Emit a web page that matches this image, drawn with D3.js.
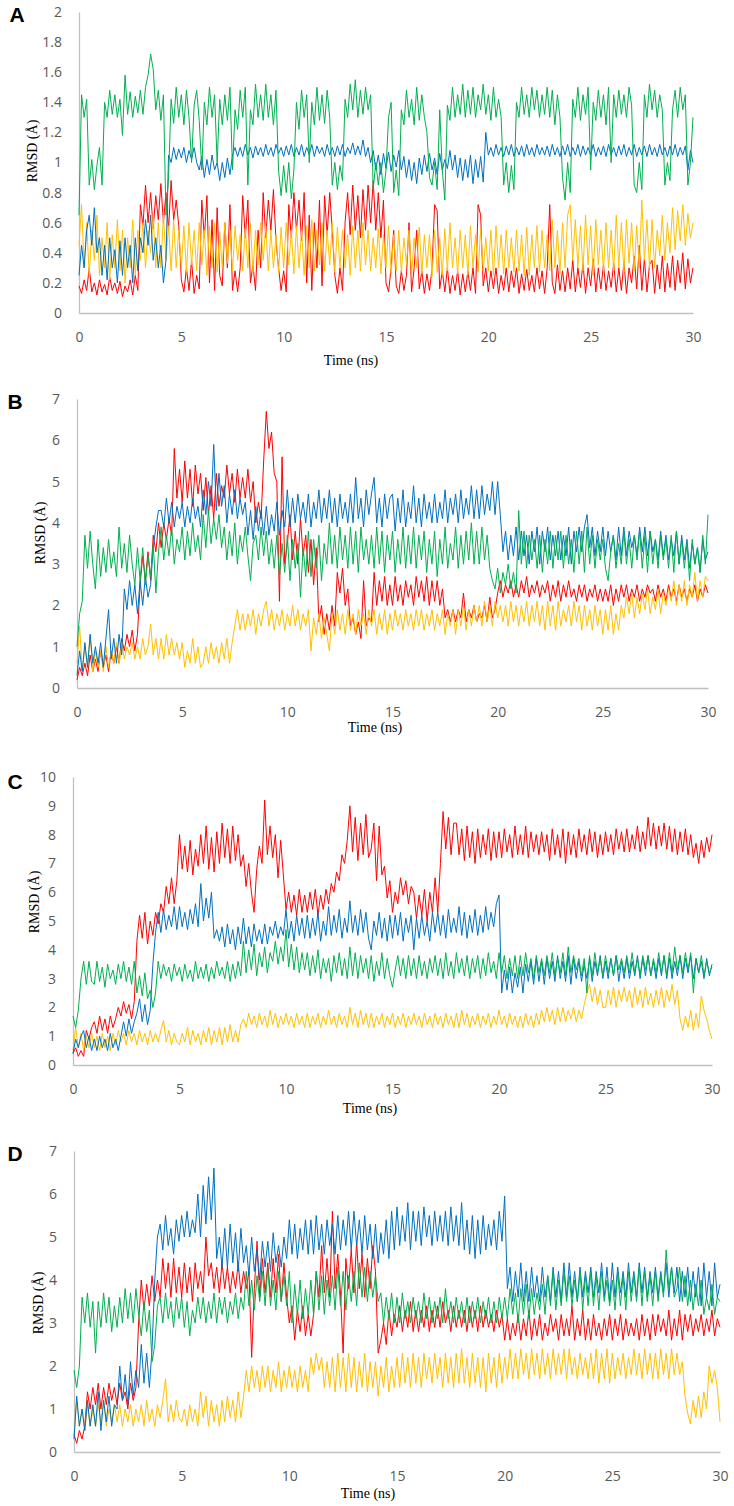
<!DOCTYPE html>
<html><head><meta charset="utf-8">
<script src="https://cdn.jsdelivr.net/npm/d3@7"></script>
<style>body{margin:0;background:#fff} svg{display:block}</style>
</head><body>
<svg id="chart" width="734" height="1506"></svg>
<script>
// sampling grid: one value every 0.125 ns, 0..30 ns (8 values per ns per row)
const timeStep = 0.125;
const time = d3.range(241).map(i => i * timeStep);
const xTicks = [0, 5, 10, 15, 20, 25, 30];
const yTicksA = [0, 0.2, 0.4, 0.6, 0.8, 1, 1.2, 1.4, 1.6, 1.8, 2];
const yTicksB = [0, 1, 2, 3, 4, 5, 6, 7];
const yTicksC = [0, 1, 2, 3, 4, 5, 6, 7, 8, 9, 10];
const yTicksD = [0, 1, 2, 3, 4, 5, 6, 7];

// ---------- Panel A ----------
const gA = [
0.65,1.45,1.3,1.42,0.85,1.02,0.82,0.98,
1.1,0.85,1.4,1.3,1.48,1.32,1.45,1.3,
1.42,1.18,1.58,1.32,1.47,1.3,1.44,1.33,
1.48,1.32,1.5,1.58,1.72,1.62,1.35,1.48,
1.28,1.45,0.65,0.9,1.42,1.26,1.5,1.3,
1.45,1.25,1.48,1.3,1.0,1.38,1.48,1.28,
0.95,1.4,1.25,1.5,1.3,1.45,1.0,1.42,
1.25,1.45,1.28,1.5,0.95,1.35,1.22,1.48,
1.3,1.5,0.85,1.35,1.25,1.52,1.3,1.45,
1.28,1.52,1.3,1.45,1.25,1.48,0.95,0.78,
0.98,0.8,1.0,0.76,0.95,1.4,1.22,1.48,
1.3,1.45,1.0,1.4,1.25,1.5,1.28,1.45,
1.26,1.48,1.3,0.85,1.0,0.82,0.98,0.88,
1.42,1.3,1.52,1.35,1.55,1.3,1.48,1.32,
1.5,1.35,1.45,0.82,1.0,0.85,1.0,0.8,
0.95,1.3,1.4,0.8,0.95,0.78,1.35,1.25,
1.48,1.3,1.42,1.25,1.5,1.28,1.45,1.3,
1.2,0.9,0.85,1.0,0.82,1.35,0.95,0.75,
1.38,1.28,1.5,1.3,1.45,1.32,1.52,1.3,
1.48,1.32,1.5,1.3,1.45,1.35,1.52,1.32,
1.45,1.28,1.5,1.3,1.42,1.3,0.85,1.0,
0.8,0.98,0.82,1.4,1.3,1.5,1.32,1.45,
1.3,1.5,1.35,1.48,1.3,1.45,1.32,1.5,
1.3,1.48,1.25,1.45,1.3,0.9,0.75,1.0,
0.8,1.42,1.3,1.5,1.28,1.45,1.32,1.5,
0.95,1.4,1.28,1.48,1.3,1.45,1.25,1.5,
1.0,1.45,1.3,1.48,1.32,1.45,1.3,1.5,
1.38,0.85,0.8,1.0,0.82,1.45,1.3,1.52,
1.35,1.48,1.3,1.45,1.35,0.85,1.0,0.88,
1.35,1.48,1.3,1.5,1.35,1.45,0.85,1.0,
1.3];
const bA = [
0.25,0.45,0.3,0.55,0.65,0.45,0.7,0.4,
0.5,0.25,0.45,0.22,0.5,0.3,0.42,0.2,
0.48,0.25,0.5,0.3,0.45,0.2,0.5,0.28,
0.5,0.4,0.62,0.45,0.65,0.35,0.5,0.3,
0.45,0.2,0.35,1.05,1.0,1.1,1.02,1.09,
1.03,1.1,1.0,1.08,1.02,1.1,1.0,0.95,
1.04,0.9,1.02,0.92,1.05,0.95,1.0,0.88,
1.0,0.9,1.03,0.92,1.05,1.1,1.04,1.1,
1.04,1.12,1.05,1.1,1.03,1.11,1.05,1.1,
1.04,1.12,1.05,1.1,1.04,1.12,1.06,1.1,
1.04,1.11,1.05,1.12,1.04,1.1,1.05,1.12,
1.04,1.1,1.05,1.12,1.04,1.11,1.06,1.1,
1.04,1.12,1.05,1.1,1.04,1.11,1.05,1.12,
1.04,1.1,1.06,1.13,1.05,1.11,1.05,1.15,
1.04,1.1,1.0,1.08,0.95,1.05,0.92,1.06,
0.96,1.07,0.94,1.05,0.97,1.08,0.95,1.04,
0.9,1.02,0.88,1.0,0.86,1.03,0.92,1.05,
0.94,1.06,0.95,1.03,0.92,1.06,0.95,1.02,
0.96,1.08,0.95,1.05,0.9,1.03,0.88,1.02,
0.9,1.05,0.86,1.02,0.9,1.04,0.87,1.2,
1.05,1.1,1.04,1.12,1.05,1.1,1.04,1.11,
1.05,1.12,1.04,1.1,1.05,1.11,1.04,1.12,
1.05,1.1,1.04,1.12,1.05,1.1,1.05,1.11,
1.04,1.12,1.05,1.1,1.04,1.11,1.05,1.12,
1.04,1.1,1.05,1.12,1.04,1.11,1.05,1.1,
1.05,1.12,1.04,1.1,1.05,1.11,1.04,1.12,
1.05,1.1,1.04,1.11,1.05,1.12,1.04,1.1,
1.05,1.12,1.04,1.1,1.05,1.11,1.04,1.12,
1.05,1.1,1.04,1.12,1.05,1.1,1.04,1.11,
1.05,1.12,1.04,1.1,1.05,1.11,0.95,1.08,
1.0];
const rA = [
0.18,0.13,0.22,0.15,0.3,0.14,0.2,0.12,
0.22,0.14,0.19,0.12,0.24,0.15,0.2,0.13,
0.21,0.11,0.18,0.14,0.22,0.12,0.25,0.15,
0.72,0.58,0.85,0.6,0.8,0.56,0.78,0.62,
0.86,0.6,0.8,0.55,0.88,0.62,0.75,0.58,
0.22,0.14,0.3,0.15,0.35,0.13,0.25,0.16,
0.75,0.5,0.78,0.2,0.62,0.15,0.7,0.25,
0.18,0.6,0.3,0.72,0.15,0.28,0.14,0.3,
0.78,0.5,0.75,0.2,0.32,0.15,0.55,0.3,
0.8,0.5,0.75,0.55,0.82,0.48,0.3,0.15,
0.28,0.14,0.72,0.5,0.8,0.55,0.75,0.48,
0.8,0.2,0.65,0.15,0.6,0.3,0.75,0.18,
0.78,0.52,0.8,0.55,0.25,0.13,0.3,0.15,
0.6,0.8,0.52,0.85,0.55,0.78,0.5,0.82,
0.55,0.85,0.6,0.88,0.55,0.8,0.5,0.75,
0.2,0.14,0.3,0.55,0.18,0.13,0.28,0.15,
0.25,0.6,0.14,0.3,0.55,0.16,0.28,0.13,
0.26,0.15,0.3,0.72,0.68,0.16,0.28,0.14,
0.3,0.13,0.25,0.15,0.28,0.12,0.26,0.14,
0.28,0.15,0.3,0.13,0.72,0.65,0.18,0.3,
0.14,0.28,0.16,0.3,0.13,0.25,0.15,0.3,
0.14,0.28,0.17,0.3,0.13,0.26,0.15,0.29,
0.15,0.25,0.14,0.3,0.16,0.28,0.13,0.3,
0.72,0.2,0.13,0.32,0.15,0.28,0.14,0.3,
0.16,0.35,0.14,0.3,0.17,0.33,0.13,0.3,
0.18,0.36,0.14,0.3,0.16,0.32,0.15,0.28,
0.17,0.33,0.14,0.3,0.15,0.34,0.13,0.3,
0.2,0.38,0.16,0.45,0.15,0.36,0.14,0.32,
0.35,0.13,0.32,0.16,0.38,0.14,0.33,0.17,
0.38,0.15,0.35,0.2,0.4,0.16,0.36,0.2,
0.3];
const yA = [
0.45,0.72,0.3,0.6,0.25,0.55,0.35,0.65,
0.25,0.5,0.3,0.6,0.22,0.52,0.3,0.62,
0.28,0.55,0.2,0.5,0.3,0.62,0.25,0.55,
0.35,0.6,0.3,0.55,0.4,0.65,0.3,0.6,
0.3,0.65,0.35,0.58,0.28,0.62,0.3,0.55,
0.3,0.58,0.27,0.6,0.32,0.55,0.28,0.6,
0.32,0.55,0.25,0.58,0.3,0.6,0.27,0.54,
0.3,0.6,0.33,0.55,0.28,0.58,0.35,0.52,
0.28,0.56,0.3,0.6,0.27,0.55,0.32,0.6,
0.35,0.58,0.28,0.55,0.3,0.52,0.27,0.57,
0.3,0.6,0.32,0.55,0.26,0.58,0.3,0.55,
0.25,0.58,0.3,0.62,0.28,0.55,0.32,0.6,
0.28,0.55,0.32,0.6,0.27,0.57,0.3,0.55,
0.3,0.52,0.25,0.58,0.3,0.55,0.28,0.6,
0.32,0.55,0.28,0.5,0.3,0.56,0.26,0.52,
0.3,0.58,0.26,0.52,0.28,0.55,0.27,0.5,
0.32,0.55,0.25,0.5,0.3,0.57,0.26,0.52,
0.3,0.52,0.24,0.55,0.27,0.5,0.25,0.56,
0.28,0.6,0.3,0.5,0.26,0.55,0.3,0.52,
0.25,0.58,0.3,0.52,0.27,0.56,0.28,0.5,
0.28,0.55,0.25,0.58,0.3,0.52,0.26,0.55,
0.3,0.5,0.27,0.55,0.28,0.52,0.25,0.57,
0.25,0.52,0.3,0.58,0.27,0.55,0.3,0.52,
0.28,0.62,0.3,0.55,0.26,0.6,0.3,0.65,
0.72,0.35,0.62,0.3,0.58,0.28,0.65,0.32,
0.58,0.25,0.62,0.32,0.55,0.28,0.6,0.3,
0.55,0.28,0.65,0.3,0.6,0.27,0.62,0.33,
0.6,0.28,0.58,0.3,0.75,0.35,0.62,0.3,
0.62,0.3,0.55,0.38,0.65,0.35,0.6,0.4,
0.7,0.42,0.68,0.48,0.72,0.45,0.66,0.5,
0.6];

// ---------- Panel B ----------
const gB = [
1.0,1.8,2.1,3.7,2.9,3.8,3.0,2.4,
3.6,2.7,3.4,2.8,3.6,2.9,3.3,2.7,
3.9,2.9,3.5,2.8,3.7,3.0,2.5,3.4,
2.6,3.4,2.5,3.2,2.7,3.5,2.3,3.3,
3.9,3.1,3.7,3.2,3.9,3.0,3.6,3.3,
3.9,3.1,3.8,3.2,4.0,3.3,3.7,3.1,
4.2,3.4,4.3,3.5,4.1,3.6,4.2,3.4,
3.9,3.1,3.8,3.2,4.0,3.0,3.7,3.3,
3.9,3.2,2.6,3.5,3.7,3.1,3.9,3.2,
3.8,3.0,3.6,2.9,3.7,2.7,3.5,2.8,
3.7,2.6,3.6,2.9,3.5,2.2,3.4,2.7,
3.8,2.7,3.6,2.9,3.7,2.6,3.5,3.0,
4.0,3.0,3.7,2.9,3.9,3.1,3.7,2.9,
3.9,3.0,3.8,2.8,3.9,3.1,3.6,3.0,
3.7,2.9,3.9,3.0,3.8,2.8,3.7,3.1,
3.8,2.8,3.6,3.0,3.9,2.9,3.7,3.0,
3.9,2.9,3.7,3.1,3.8,2.8,3.6,3.0,
3.8,2.7,3.6,3.0,3.9,2.9,3.5,3.1,
3.9,2.9,3.7,3.0,3.8,3.1,4.0,3.0,
3.8,3.0,3.9,3.1,3.7,2.9,2.6,2.4,
2.9,2.3,2.8,2.5,3.0,2.4,2.8,2.3,
4.3,3.0,3.8,2.9,3.7,3.1,3.6,2.9,
3.7,2.8,3.6,3.0,3.8,2.9,3.7,3.1,
3.8,2.9,3.7,3.0,3.6,2.8,3.8,3.0,
3.8,2.8,3.9,3.0,3.7,2.9,3.6,3.1,
3.6,2.9,2.6,3.3,3.7,2.9,3.5,3.0,
3.8,3.0,3.6,2.9,3.7,3.1,3.8,2.9,
3.7,2.8,3.8,3.0,3.6,2.9,3.7,3.1,
3.6,2.9,3.7,2.8,3.8,3.0,3.6,2.9,
3.5,2.6,3.6,3.0,3.4,2.8,3.7,3.0,
4.2];
const bB = [
0.3,0.9,0.4,1.1,0.5,1.3,0.6,1.0,
0.6,1.1,0.5,1.2,1.9,0.7,1.2,0.6,
1.3,0.8,2.4,1.9,2.6,2.0,2.5,1.8,
2.6,2.0,2.7,2.2,2.5,3.4,3.9,4.3,
4.3,3.9,4.6,4.0,4.5,3.9,4.4,4.1,
4.5,3.9,4.4,4.0,4.6,4.1,4.4,3.9,
4.8,4.2,5.0,4.4,5.9,4.3,5.2,4.4,
4.9,4.0,4.7,4.2,4.8,4.1,4.6,4.2,
4.5,3.7,4.3,3.6,4.4,3.8,4.3,3.7,
4.4,3.7,4.2,3.8,4.5,3.7,4.3,3.9,
4.8,3.9,4.6,4.0,4.7,4.1,4.5,4.0,
4.7,3.9,4.5,4.1,4.8,4.0,4.6,4.1,
4.8,4.0,4.6,3.9,4.7,4.1,4.5,4.0,
4.7,4.0,5.1,4.1,4.6,3.9,4.8,4.2,
4.7,5.1,4.0,4.6,3.9,4.7,4.1,4.6,
4.7,3.8,4.6,4.0,4.8,3.9,4.5,4.1,
4.9,4.0,4.6,3.9,4.7,4.1,4.5,4.0,
4.7,4.0,4.5,4.1,4.8,4.0,4.6,4.2,
4.7,4.0,4.8,4.1,4.6,4.2,4.9,4.1,
4.8,4.1,4.9,4.2,4.7,4.3,5.0,4.2,
5.0,4.2,3.3,3.8,3.1,3.7,3.2,3.9,
3.1,3.8,3.2,3.7,3.0,3.8,3.3,3.9,
3.0,3.8,3.3,3.9,3.1,3.7,3.2,3.8,
3.1,3.7,3.2,3.9,3.0,3.8,3.3,3.9,
3.3,3.9,4.2,3.4,3.9,3.2,3.8,3.3,
3.9,3.2,3.8,3.3,3.7,3.1,3.9,3.2,
3.9,3.2,3.8,3.4,3.7,3.2,3.9,3.3,
3.9,3.2,3.8,3.3,3.6,3.1,3.8,3.2,
3.7,3.1,3.6,3.2,3.8,3.0,3.7,3.1,
3.6,2.9,3.5,3.0,3.4,2.8,3.6,3.1,
3.3];
const rB = [
0.2,0.5,0.3,0.6,0.3,0.8,0.4,0.7,
0.4,0.9,0.5,0.8,0.4,0.9,0.6,1.0,
0.6,1.2,0.9,1.3,1.0,1.4,0.9,1.3,
2.5,3.2,2.6,3.3,2.6,3.7,3.3,4.0,
3.4,4.0,3.6,4.1,3.7,5.8,4.6,5.3,
4.5,5.5,4.6,5.3,4.4,5.4,4.7,5.2,
4.3,5.1,4.2,4.9,4.1,5.2,4.4,4.9,
4.6,5.4,4.7,5.2,4.5,5.3,4.6,5.1,
4.6,5.3,4.5,5.0,4.0,4.5,4.1,5.5,
6.7,5.8,6.2,5.2,5.0,2.1,5.6,3.0,
3.5,4.2,3.1,3.8,3.0,4.1,3.2,3.7,
2.8,3.6,2.5,3.4,1.6,2.0,1.3,1.8,
1.4,2.0,1.5,2.8,2.3,2.9,2.0,2.4,
1.5,1.7,1.3,1.6,1.2,2.6,1.5,1.7,
1.6,2.8,2.0,2.6,2.1,2.7,2.0,2.5,
2.0,2.7,2.1,2.5,2.0,2.6,2.2,2.5,
2.0,2.7,2.2,2.6,2.1,2.7,2.0,2.6,
2.1,2.6,2.0,2.4,1.7,1.9,1.6,1.9,
1.6,1.9,1.7,2.3,1.6,1.9,1.7,2.0,
1.6,1.8,1.7,2.0,1.6,2.2,1.7,1.9,
2.3,2.6,2.2,2.5,2.3,2.6,2.2,2.5,
2.2,2.6,2.3,2.7,2.2,2.5,2.3,2.6,
2.2,2.5,2.3,2.6,2.1,2.5,2.2,2.6,
2.1,2.5,2.2,2.6,2.2,2.4,2.1,2.5,
2.2,2.5,2.1,2.4,2.2,2.5,2.1,2.4,
2.1,2.4,2.1,2.5,2.0,2.4,2.1,2.5,
2.2,2.5,2.1,2.4,2.2,2.5,2.1,2.4,
2.2,2.5,2.3,2.4,2.1,2.5,2.2,2.4,
2.1,2.5,2.2,2.4,2.1,2.5,2.2,2.4,
2.1,2.4,2.2,2.5,2.1,2.4,2.2,2.5,
2.3];
const yB = [
0.6,1.5,0.4,1.0,0.5,1.3,0.4,0.9,
0.5,0.9,0.4,1.0,0.5,0.9,0.6,1.1,
0.6,1.1,0.7,1.0,0.8,1.1,0.7,1.0,
0.7,1.2,0.8,1.0,1.55,0.8,1.2,0.7,
1.2,0.7,1.3,0.8,1.2,0.8,1.1,0.7,
1.1,0.5,0.9,0.6,1.2,0.6,1.0,0.5,
0.6,1.0,0.6,1.1,0.7,1.0,0.6,1.1,
0.7,1.2,0.6,1.1,1.5,1.9,1.4,1.8,
1.4,1.8,1.5,1.9,1.3,1.8,1.5,1.9,
2.1,1.5,1.9,1.4,1.8,1.5,1.9,1.4,
1.8,1.5,2.0,1.5,1.9,1.4,1.8,1.5,
1.9,0.9,1.7,1.3,1.8,1.2,1.7,1.3,
0.9,1.8,1.3,1.9,1.4,1.8,1.3,1.9,
1.4,1.8,1.3,1.9,1.5,1.8,1.3,1.9,
1.5,1.9,1.3,1.8,1.4,1.9,1.3,1.8,
1.4,1.9,1.5,1.8,1.4,1.9,1.5,1.8,
1.4,1.9,1.5,1.9,1.4,1.8,1.5,1.9,
1.4,1.8,1.5,1.9,1.3,1.8,1.5,1.9,
1.3,1.9,1.5,2.0,1.4,1.9,1.5,2.0,
1.6,2.0,1.5,2.1,1.6,2.0,1.5,2.1,
1.7,2.0,1.6,2.0,1.5,2.1,1.6,2.0,
1.5,2.0,1.6,2.1,1.5,2.0,1.6,2.1,
1.5,2.0,1.4,2.1,1.5,2.0,1.4,2.1,
1.5,1.9,1.6,2.0,1.5,2.1,1.6,2.0,
1.4,2.0,1.5,1.9,1.4,2.0,1.5,1.9,
1.3,1.9,1.4,2.0,1.3,1.8,1.4,2.0,
1.7,2.2,1.8,2.3,1.7,2.2,1.8,2.3,
1.9,2.4,1.8,2.2,1.9,2.4,1.8,2.3,
2.0,2.4,2.1,2.6,2.0,2.5,2.1,2.6,
2.0,2.5,2.2,2.8,2.1,2.6,2.2,2.7,
2.6];

// ---------- Panel C ----------
const rC = [
0.4,0.6,0.3,0.5,0.3,1.2,0.9,1.3,
1.5,1.1,1.7,1.2,1.6,1.1,1.7,1.3,
1.6,2.0,1.7,2.2,1.8,2.1,1.6,2.2,
4.3,5.2,4.4,5.3,4.2,5.0,4.5,5.3,
4.9,5.6,5.3,6.2,5.6,6.5,5.6,6.4,
8.0,6.8,7.6,6.7,7.8,6.6,7.5,6.9,
8.0,7.0,8.3,6.8,7.9,6.7,8.1,7.0,
8.4,7.2,8.2,7.0,8.3,7.1,8.0,6.9,
7.3,6.2,7.0,6.0,5.3,6.8,7.6,7.0,
9.2,7.3,8.3,7.2,8.0,6.5,7.8,6.6,
5.4,6.0,5.3,5.9,5.2,6.1,5.3,5.9,
5.3,6.0,5.4,6.1,5.2,5.9,5.4,6.1,
5.6,6.3,6.0,6.7,6.4,7.3,7.0,7.8,
9.0,7.4,8.6,7.1,8.4,7.3,8.7,7.2,
7.5,8.4,6.4,8.3,6.6,6.9,5.8,6.4,
5.3,6.0,5.6,6.5,5.9,6.4,5.6,6.2,
6.0,5.1,5.9,5.2,6.1,5.0,6.0,5.3,
6.5,5.3,7.0,8.8,7.5,8.6,7.3,8.4,
8.4,7.3,8.2,7.1,8.3,7.2,8.1,7.0,
8.2,7.2,8.0,7.3,8.2,7.1,8.1,7.2,
8.1,7.2,8.2,7.4,8.0,7.2,8.3,7.3,
8.0,7.3,8.3,7.2,8.1,7.4,8.0,7.3,
8.1,7.4,8.0,7.1,8.2,7.3,8.0,7.2,
8.2,7.0,8.1,7.3,8.0,7.2,8.2,7.4,
8.0,7.3,8.2,7.4,8.1,7.2,8.0,7.3,
8.1,7.4,8.0,7.3,8.2,7.5,8.1,7.4,
8.2,7.4,8.0,7.5,8.3,7.4,8.1,7.5,
8.6,7.6,8.4,7.5,8.3,7.6,8.4,7.5,
8.3,7.4,8.2,7.3,8.1,7.4,8.2,7.3,
8.0,7.2,7.7,7.0,7.8,7.2,7.9,7.4,
8.0];
const bC = [
0.4,0.9,0.6,1.0,1.2,0.6,1.0,0.5,
0.9,0.5,1.0,0.6,0.9,0.5,1.1,0.6,
0.9,0.5,1.0,1.5,1.0,1.6,1.1,1.5,
1.8,2.3,1.5,2.1,1.4,1.9,3.5,4.6,
5.3,4.6,5.4,4.7,5.2,4.8,5.5,4.7,
5.5,4.8,5.3,4.7,5.4,4.9,5.6,4.8,
6.3,5.0,5.8,5.1,6.0,4.4,4.7,4.3,
4.8,4.1,4.9,4.2,4.7,4.0,4.8,4.2,
5.1,4.2,4.8,4.1,4.9,4.3,4.7,4.2,
4.9,4.2,4.8,4.5,5.0,4.4,4.8,4.5,
5.4,4.4,5.0,4.3,5.2,4.5,5.1,4.4,
5.2,4.4,5.1,4.5,5.3,4.3,5.0,4.5,
5.5,4.5,5.2,4.6,5.4,4.4,5.1,4.6,
5.7,4.6,5.2,4.5,5.4,4.6,5.3,4.4,
4.0,5.0,4.5,5.3,4.4,5.1,4.3,5.2,
4.4,5.2,4.5,5.3,4.3,5.1,4.6,5.2,
4.0,5.1,4.4,5.2,4.5,5.0,4.3,5.3,
4.6,5.3,4.5,5.2,4.4,5.4,4.6,5.1,
4.6,5.5,4.5,5.3,4.4,5.2,4.6,5.4,
4.5,5.2,4.6,5.5,4.7,5.3,4.8,5.6,
5.9,2.5,3.3,2.6,3.4,2.5,3.2,2.7,
3.4,2.5,3.5,2.9,3.6,2.8,3.7,2.9,
3.6,2.8,3.7,3.0,3.6,2.9,3.8,3.0,
3.6,2.9,3.8,2.8,3.7,3.0,3.6,2.9,
3.5,3.0,3.7,2.9,3.6,3.1,3.8,3.0,
3.6,3.0,3.7,3.1,3.8,2.9,3.6,3.0,
3.7,3.0,3.6,3.1,3.8,3.0,3.7,3.1,
3.8,3.1,3.6,3.0,3.7,3.1,3.8,3.0,
3.7,3.0,3.6,3.1,3.8,3.0,3.7,3.2,
3.8,3.0,3.7,3.2,3.6,3.0,3.7,3.1,
3.5];
const gC = [
1.7,1.3,1.9,3.0,3.6,2.8,3.6,2.9,
2.8,3.6,2.9,3.4,2.7,3.5,3.0,3.3,
2.8,3.5,3.0,3.6,2.9,3.4,2.8,3.6,
2.5,3.1,2.4,3.2,2.3,2.6,2.0,2.5,
3.6,3.0,3.5,3.1,3.4,2.9,3.5,3.1,
3.4,2.9,3.5,3.0,3.3,2.9,3.6,3.0,
3.4,3.0,3.5,2.9,3.4,3.0,3.6,3.1,
3.4,3.0,3.6,2.9,3.5,3.0,3.6,3.1,
4.3,3.2,4.0,3.3,4.2,3.1,3.9,3.4,
4.1,3.2,3.9,3.6,4.3,3.5,4.1,3.6,
4.7,3.4,4.2,3.3,4.1,3.2,3.9,3.3,
3.9,3.1,3.8,3.2,4.0,3.0,3.7,3.2,
3.7,2.9,3.8,3.2,3.9,3.1,3.7,3.0,
4.1,3.1,3.9,3.0,3.8,3.2,3.7,3.0,
3.8,2.9,3.6,3.1,3.9,3.0,3.7,3.1,
2.7,3.3,3.8,3.1,3.7,3.0,3.8,3.1,
3.7,3.0,3.8,3.1,3.6,3.0,3.7,3.2,
3.8,3.1,3.7,3.0,3.9,3.1,3.6,3.0,
3.9,3.2,3.7,3.1,3.8,3.0,3.7,3.2,
3.8,3.0,3.7,3.1,3.9,3.2,3.6,3.0,
3.9,3.2,3.8,3.0,3.7,3.1,3.8,3.0,
3.8,3.1,3.9,3.2,3.7,3.0,3.8,3.2,
3.7,3.1,3.8,3.2,3.9,3.1,3.7,3.2,
3.9,3.1,4.1,3.2,3.8,3.3,3.7,3.1,
3.7,2.5,3.8,3.1,3.9,3.2,3.7,3.1,
3.8,3.2,3.7,3.1,3.8,3.3,3.7,3.2,
3.8,3.2,3.9,3.2,3.7,3.1,3.8,3.3,
3.8,3.1,3.7,3.2,3.9,3.2,3.8,3.1,
3.9,3.2,4.1,3.3,3.8,3.2,3.9,3.3,
3.9,2.5,3.7,3.2,3.8,3.1,3.6,3.2,
3.4];
const yC = [
0.5,1.3,0.6,1.1,0.5,1.0,0.6,1.1,
0.6,1.0,0.5,1.1,0.6,1.0,0.5,1.1,
0.7,1.2,0.8,1.1,0.7,1.2,0.8,1.1,
0.7,1.2,0.8,1.1,0.7,1.2,0.8,1.1,
0.8,1.2,1.55,0.8,1.2,0.7,1.1,0.8,
0.7,1.1,0.8,1.3,0.7,1.2,0.8,1.1,
0.7,1.2,0.8,1.3,0.7,1.2,0.8,1.3,
0.7,1.3,0.8,1.4,0.8,1.2,0.8,1.4,
1.6,1.3,1.8,1.4,1.7,1.3,1.8,1.4,
1.7,1.3,1.9,1.4,1.8,1.3,1.7,1.4,
1.8,1.4,1.7,1.3,1.8,1.4,1.7,1.3,
1.8,1.3,1.7,1.4,1.8,1.3,1.7,1.4,
1.9,1.4,1.7,1.3,1.8,1.4,1.7,1.3,
2.0,1.4,1.8,1.3,1.9,1.4,1.8,1.3,
1.8,1.3,1.7,1.4,1.8,1.3,1.7,1.4,
1.8,1.3,1.7,1.4,1.8,1.3,1.7,1.4,
1.8,1.4,1.7,1.3,1.8,1.4,1.7,1.3,
1.8,1.4,1.7,1.3,1.8,1.4,1.7,1.3,
1.8,1.3,1.9,1.4,1.8,1.3,1.7,1.4,
1.8,1.3,1.7,1.4,1.8,1.3,1.7,1.4,
1.9,1.4,1.7,1.3,1.8,1.4,1.7,1.3,
1.7,1.3,1.8,1.4,1.7,1.3,1.8,1.4,
1.9,1.5,2.0,1.5,1.9,1.4,2.0,1.5,
2.0,1.5,1.9,1.6,2.0,1.5,1.9,1.6,
2.1,2.5,2.8,2.2,2.7,2.1,2.6,2.0,
2.0,2.6,2.1,2.7,2.0,2.6,2.2,2.7,
2.2,2.6,2.0,2.7,2.1,2.6,2.0,2.7,
2.1,2.5,2.0,2.6,2.1,2.7,2.0,2.6,
2.2,2.8,2.1,2.6,1.6,1.2,1.7,1.3,
1.9,1.2,1.8,1.3,2.4,1.9,1.6,1.2,
0.9];

// ---------- Panel D ----------
const bD = [
0.3,1.3,0.6,1.0,0.5,1.2,0.6,1.1,
0.6,1.4,0.5,1.2,0.7,1.3,0.6,1.1,
1.0,2.0,1.2,1.8,1.1,2.1,1.3,1.9,
1.5,2.5,1.6,2.3,1.5,2.4,4.0,5.0,
5.3,4.7,5.5,4.8,5.2,4.6,5.4,4.9,
5.5,5.0,5.6,5.0,5.4,5.1,6.0,5.0,
6.2,5.3,6.4,5.4,6.6,4.5,5.0,4.3,
5.2,4.3,5.3,4.4,5.1,4.2,5.2,4.4,
4.8,4.1,5.0,4.2,4.7,4.0,4.9,4.3,
4.9,4.2,5.1,4.4,4.8,4.3,5.0,4.5,
5.4,4.6,5.3,4.5,5.2,4.7,5.4,4.6,
5.4,4.6,5.5,4.7,5.3,4.6,5.4,4.8,
5.3,4.6,5.5,4.7,5.4,4.8,5.6,4.7,
5.6,4.8,5.4,4.6,5.5,4.7,5.3,4.5,
5.3,4.4,5.1,4.6,5.4,4.5,5.6,4.7,
5.7,4.8,5.5,4.9,5.8,4.7,5.6,4.9,
5.6,4.8,5.7,5.0,5.5,4.8,5.6,4.9,
5.5,4.9,5.6,4.8,5.7,4.9,5.5,4.8,
5.8,4.7,5.4,4.6,5.5,4.5,5.4,4.6,
5.5,4.7,5.3,4.8,5.4,4.7,5.6,4.9,
5.95,3.8,4.3,3.5,4.2,3.6,4.4,3.5,
4.2,3.5,4.3,3.6,4.1,3.5,4.3,3.6,
4.1,3.5,4.3,3.6,4.2,3.5,4.4,3.6,
4.4,3.6,4.2,3.5,4.3,3.6,4.2,3.7,
4.3,3.6,4.2,3.7,4.4,3.6,4.3,3.5,
4.4,3.6,4.3,3.7,4.2,3.6,4.4,3.7,
4.2,3.6,4.4,3.7,4.3,3.6,4.2,3.7,
4.3,3.6,4.2,3.7,4.4,3.6,4.3,3.7,
4.3,3.5,4.2,3.6,4.3,3.5,4.2,3.6,
4.3,3.4,4.4,3.6,4.2,3.4,4.4,3.6,
3.9];
const rD = [
0.4,0.2,0.5,0.3,0.6,1.4,1.0,1.5,
1.1,1.6,1.0,1.5,1.1,1.6,1.2,1.5,
1.1,1.6,1.2,1.4,1.0,1.6,1.2,1.5,
3.0,4.0,3.3,3.9,3.4,4.1,3.5,4.0,
3.6,4.5,3.8,4.4,3.6,4.5,3.7,4.3,
3.6,4.4,3.7,4.3,3.5,4.4,3.8,4.2,
3.7,5.0,4.1,4.4,3.8,4.3,3.7,4.4,
3.8,4.3,3.7,4.2,3.8,4.4,3.7,4.2,
3.8,4.2,2.2,3.8,4.9,3.6,4.5,3.7,
4.4,3.6,4.5,3.7,4.6,3.5,4.4,3.6,
3.0,3.4,2.6,3.3,2.8,3.4,2.7,3.2,
2.7,3.2,4.2,3.6,4.8,3.7,4.5,3.6,
5.6,3.8,4.6,3.7,2.3,4.5,3.8,4.7,
3.7,4.9,3.8,4.6,3.6,4.5,3.8,4.8,
4.2,2.3,2.6,3.0,2.5,3.3,2.7,3.2,
2.9,3.4,2.8,3.3,2.9,3.5,2.8,3.3,
2.8,3.3,2.9,3.4,2.8,3.3,2.9,3.4,
2.9,3.5,3.0,3.3,2.8,3.4,2.9,3.3,
2.9,3.3,2.8,3.4,2.9,3.3,2.8,3.4,
2.9,3.3,2.9,3.2,2.8,3.3,2.9,3.2,
2.6,3.1,2.6,3.0,2.7,3.2,2.6,3.1,
2.7,3.3,2.6,3.1,2.7,3.2,2.6,3.0,
2.7,3.2,2.8,3.1,2.6,3.2,2.7,3.1,
2.7,3.4,2.6,3.1,2.7,3.3,2.6,3.1,
2.6,3.2,2.7,3.0,2.6,3.1,2.7,3.2,
2.6,3.1,2.7,3.2,2.6,3.1,2.7,3.0,
2.7,3.1,2.6,3.2,2.7,3.1,2.6,3.2,
2.7,3.2,2.8,3.1,2.7,3.3,2.6,3.1,
2.7,3.3,2.6,3.2,2.8,3.2,2.7,3.1,
2.8,3.2,2.7,3.1,2.8,3.3,2.7,3.1,
2.9];
const gD = [
1.9,1.5,2.0,3.6,3.0,3.7,2.9,3.5,
2.3,3.5,2.9,3.7,3.0,3.6,2.8,3.4,
2.9,3.6,3.0,3.8,3.1,3.7,3.0,3.8,
3.2,2.7,3.5,2.8,3.3,2.1,2.5,3.4,
3.6,3.0,3.7,3.1,3.5,2.9,3.6,3.1,
3.6,2.9,3.5,2.7,3.3,3.0,3.6,3.1,
3.6,3.0,3.5,3.1,3.7,3.0,3.6,3.2,
3.6,3.0,3.5,3.2,3.7,3.1,3.6,3.3,
4.2,3.4,4.0,3.3,4.1,3.5,4.2,3.4,
4.3,3.4,4.0,3.3,4.2,3.5,4.1,3.4,
4.2,3.0,3.9,3.2,4.0,3.1,3.8,3.2,
4.0,3.2,4.2,3.3,4.1,3.2,4.0,3.4,
4.1,3.3,4.3,3.4,4.2,3.3,4.1,3.5,
4.2,3.4,4.4,3.6,4.3,3.5,4.2,3.6,
4.1,3.5,3.7,3.0,3.6,3.1,3.7,3.0,
3.6,3.0,3.7,3.1,3.5,3.0,3.6,3.1,
3.5,3.0,3.7,3.1,3.6,3.0,3.5,3.1,
3.6,3.0,3.8,3.1,3.5,3.0,3.6,3.1,
3.5,3.0,3.6,3.0,3.5,3.1,3.6,3.0,
3.5,3.1,3.6,3.0,3.5,3.0,3.6,3.1,
3.6,3.1,3.8,3.2,3.7,3.0,3.8,3.2,
3.9,3.1,3.8,3.2,3.7,3.3,3.9,3.2,
4.1,3.4,4.2,3.3,4.0,3.4,4.2,3.5,
4.1,3.4,4.0,3.5,4.2,3.3,4.1,3.4,
4.2,3.4,4.1,3.3,4.2,3.5,4.0,3.4,
4.0,3.3,4.2,3.4,4.1,3.3,4.2,3.5,
4.1,3.5,4.3,3.4,4.2,3.5,4.1,3.4,
4.2,3.5,4.1,3.6,4.7,3.8,4.3,3.6,
3.8,4.3,3.5,4.1,3.4,4.0,3.3,3.9,
3.4,4.0,3.2,3.6,3.3,3.9,3.2,3.6,
3.5];
const yD = [
0.4,1.2,0.6,1.0,0.5,1.1,0.6,1.0,
0.6,1.1,0.7,1.2,0.6,1.0,0.7,1.1,
0.7,1.1,0.6,1.0,0.7,1.1,0.6,1.0,
0.7,1.1,0.6,1.2,0.7,1.0,0.6,1.1,
0.8,1.2,1.7,0.7,1.1,0.7,1.2,0.8,
0.7,1.0,0.6,1.1,0.7,1.0,0.6,1.4,
0.8,1.3,0.6,1.2,0.7,1.1,0.6,1.2,
0.7,1.3,0.8,1.2,0.7,1.4,0.8,1.3,
1.9,1.4,2.0,1.5,1.9,1.4,2.0,1.5,
2.0,1.4,1.9,1.5,2.1,1.4,1.9,1.5,
2.0,1.5,1.9,1.4,2.0,1.5,1.9,1.4,
2.2,1.8,2.3,1.9,2.2,1.5,2.1,1.5,
2.2,1.4,2.3,1.5,2.2,1.4,2.3,1.5,
2.2,1.4,2.1,1.5,2.3,1.4,2.1,1.5,
2.1,1.3,2.0,1.5,2.2,1.4,2.0,1.5,
2.2,1.5,2.3,1.6,2.2,1.5,2.3,1.6,
2.2,1.5,2.3,1.7,2.2,1.6,2.3,1.7,
2.2,1.5,2.3,1.6,2.2,1.5,2.3,1.6,
2.4,1.6,2.2,1.5,2.3,1.6,2.2,1.5,
2.2,1.4,2.3,1.6,2.2,1.5,2.3,1.6,
2.2,1.7,2.4,1.7,2.3,1.7,2.4,1.8,
2.3,1.7,2.4,1.8,2.3,1.7,2.4,1.8,
2.3,1.7,2.4,1.8,2.3,1.8,2.4,1.7,
2.4,1.8,2.2,1.7,2.3,1.8,2.2,1.7,
2.3,1.7,2.4,1.6,2.3,1.7,2.4,1.6,
2.3,1.7,2.2,1.8,2.3,1.7,2.2,1.8,
2.4,1.8,2.3,1.7,2.4,1.8,2.3,1.7,
2.3,1.7,2.4,1.8,2.3,1.7,2.4,1.8,
2.3,1.8,2.1,1.3,0.9,0.65,1.2,0.8,
1.3,0.8,1.4,1.0,2.0,1.6,1.9,1.5,
0.7];

const colors = {red: "#FF0000", yellow: "#FFC000", blue: "#0070C0", green: "#00B050"};
const drawOrder = ["red", "yellow", "blue", "green"];

const panels = [
  {letter: "A", series: {red: rA, yellow: yA, blue: bA, green: gA}, yMax: 2, yTicks: yTicksA,
   x0: 79, x1: 693, yBottom: 313, yTop: 12, letterPos: [17, 15], yTitlePos: [32, 151], xTitlePos: [351, 360]},
  {letter: "B", series: {red: rB, yellow: yB, blue: bB, green: gB}, yMax: 7, yTicks: yTicksB,
   x0: 77, x1: 708, yBottom: 688, yTop: 399, letterPos: [15, 402], yTitlePos: [40, 533], xTitlePos: [375, 727]},
  {letter: "C", series: {red: rC, yellow: yC, blue: bC, green: gC}, yMax: 10, yTicks: yTicksC,
   x0: 73, x1: 712, yBottom: 1065, yTop: 777, letterPos: [15, 782], yTitlePos: [34, 902], xTitlePos: [370, 1108]},
  {letter: "D", series: {red: rD, yellow: yD, blue: bD, green: gD}, yMax: 7, yTicks: yTicksD,
   x0: 74, x1: 720, yBottom: 1452, yTop: 1151, letterPos: [15, 1154], yTitlePos: [38, 1303], xTitlePos: [368, 1493]}
];

const svg = d3.select("#chart");
svg.append("rect").attr("width", 734).attr("height", 1506).attr("fill", "#fff");

panels.forEach(p => {
  const x = d3.scaleLinear().domain([0, 30]).range([p.x0, p.x1]);
  const y = d3.scaleLinear().domain([0, p.yMax]).range([p.yBottom, p.yTop]);
  const g = svg.append("g");

  const xa = g.append("g").attr("transform", `translate(0,${p.yBottom})`)
    .call(d3.axisBottom(x).tickValues(xTicks).tickSize(0).tickSizeOuter(0).tickPadding(19).tickFormat(d3.format("d")));
  const ya = g.append("g").attr("transform", `translate(${p.x0},0)`)
    .call(d3.axisLeft(y).tickValues(p.yTicks).tickSize(0).tickSizeOuter(0).tickPadding(17).tickFormat(d3.format("~g")));
  [xa, ya].forEach(a => {
    a.select(".domain").attr("stroke", "#c0c0c0").attr("stroke-width", 1.3);
    a.selectAll("text").attr("font-family", "'Open Sans', sans-serif").attr("font-size", 14).attr("fill", "#595959");
  });

  const line = d3.line().x((d, i) => x(time[i])).y(d => y(d));
  drawOrder.forEach(k => {
    g.append("path").datum(p.series[k]).attr("d", line)
      .attr("fill", "none").attr("stroke", colors[k]).attr("stroke-width", 1).attr("stroke-linejoin", "round");
  });

  g.append("text").attr("x", p.letterPos[0]).attr("y", p.letterPos[1]).attr("dy", "0.35em")
    .attr("text-anchor", "middle").attr("font-family", "'Liberation Sans', Arial, sans-serif")
    .attr("font-weight", "bold").attr("font-size", 21).attr("fill", "#000").text(p.letter);

  g.append("text").attr("transform", `translate(${p.yTitlePos[0]},${p.yTitlePos[1]}) rotate(-90)`)
    .attr("dy", "0.35em").attr("text-anchor", "middle")
    .attr("font-family", "'Liberation Serif', 'Times New Roman', serif").attr("font-size", 14).attr("fill", "#000")
    .text("RMSD (Å)");

  g.append("text").attr("x", p.xTitlePos[0]).attr("y", p.xTitlePos[1]).attr("dy", "0.35em")
    .attr("text-anchor", "middle")
    .attr("font-family", "'Liberation Serif', 'Times New Roman', serif").attr("font-size", 14).attr("fill", "#000")
    .text("Time (ns)");
});
</script>
</body></html>
